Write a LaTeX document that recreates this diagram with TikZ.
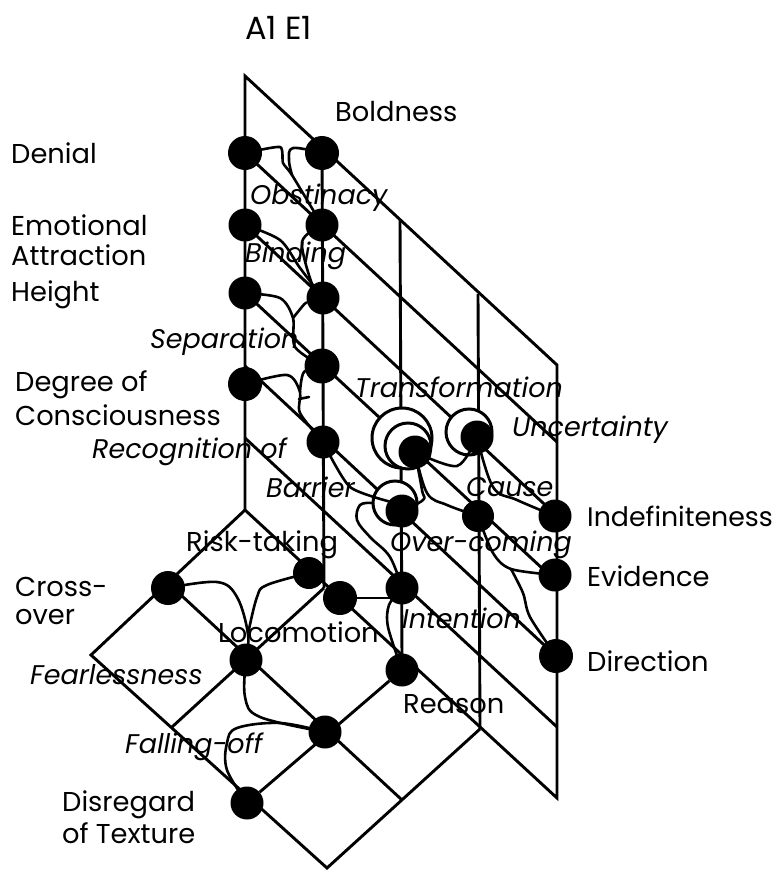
\documentclass[tikz,border=0pt]{standalone}
\usepackage{fontspec}
\setmainfont{Poppins}
\pgfdeclarelayer{bg}
\pgfsetlayers{bg,main}
\tikzset{
  grid line/.style={line width=2.9pt,line join=miter},
  conn/.style={line width=2.6pt,line cap=round,line join=round},
  dot/.style={circle,fill=black,draw=none,minimum size=#1,inner sep=0pt},
  dot/.default=33pt,
  ring/.style={circle,draw=black,fill=white,line width=3pt,minimum size=#1,inner sep=0pt},
  lab/.style={anchor=west,inner sep=0pt,font=\fontsize{27.3}{27.3}\selectfont,text=black,align=left},
  ilab/.style={lab,font=\fontsize{27}{27}\selectfont\itshape},
}
\begin{document}
\begin{tikzpicture}[x=1pt,y=-1pt]
\useasboundingbox (0,0) rectangle (776,870);
% grid corner points
\coordinate (T) at (245,76);
\coordinate (TR) at (557,365);
\coordinate (A) at (245,510);
\coordinate (BRR) at (557,798);
\coordinate (LC) at (91,655);
\coordinate (BOT) at (327,868);
\coordinate (RC) at (480,729);
\coordinate (v2t) at (322,147);
\coordinate (v2b) at (324,588);
\coordinate (v3t) at (400,220);
\coordinate (v3b) at (402,660);
\coordinate (v4t) at (478,294);
\coordinate (d2a) at (245,153);
\coordinate (d2b) at (557,442);
\coordinate (d3a) at (245,225);
\coordinate (d3b) at (557,516);
\coordinate (d4a) at (245,293);
\coordinate (d4b) at (557,582);
\coordinate (d5a) at (245,366);
\coordinate (d5b) at (557,657);
\coordinate (d6a) at (245,438);
\coordinate (d6b) at (557,727);
\coordinate (r1a) at (168,583);
\coordinate (r1b) at (402,800);
\coordinate (l2b) at (172,727);
% nodes
\node[dot=34pt] (denial) at (245,153) {};
\node[dot=34pt] (bold) at (322,153) {};
\node[dot=33pt] (emo) at (245,225) {};
\node[dot=33pt] (obst) at (322,225) {};
\node[dot=33pt] (height) at (245,293) {};
\node[dot=33pt] (bind) at (323,298) {};
\node[dot=35pt] (sep) at (322,366) {};
\node[dot=34pt] (deg) at (245,384) {};
\node[dot=33pt] (recog) at (323,442) {};
\node[dot=33pt] (trans) at (415,452) {};
\node[dot=33pt] (unc) at (477,437) {};
\node[dot=33pt] (barr) at (402,511) {};
\node[dot=32pt] (cause) at (478,516) {};
\node[dot=33pt] (indef) at (555,516) {};
\node[dot=33pt] (evid) at (555,575) {};
\node[dot=34pt] (dir) at (556,656) {};
\node[dot=33pt] (over) at (402,588) {};
\node[dot=33pt] (reason) at (402,670) {};
\node[dot=34pt] (inten) at (340,598) {};
\node[dot=32pt] (risk) at (309,573) {};
\node[dot=34pt] (cross) at (168,588) {};
\node[dot=33pt] (loco) at (246,660) {};
\node[dot=33pt] (fall) at (325,732) {};
\node[dot=33pt] (disr) at (247,803) {};
\begin{pgfonlayer}{bg}
% plane
\draw[grid line] (A) -- (T) -- (TR) -- (BRR) -- (A);
\draw[grid line] (v2t) -- (v2b);
\draw[grid line] (v3t) -- (v3b);
\draw[grid line] (v4t) -- (RC);
\draw[grid line] (d2a) -- (d2b);
\draw[grid line] (d3a) -- (d3b);
\draw[grid line] (d4a) -- (d4b);
\draw[grid line] (d5a) -- (d5b);
\draw[grid line] (d6a) -- (d6b);
% floor
\draw[grid line] (A) -- (LC) -- (BOT) -- (RC);
\draw[grid line] (r1a) -- (r1b);
\draw[grid line] (v2b) -- (l2b);
\draw[grid line] (reason) -- (disr);
% rings
\node[ring=60pt] (ringA) at (402,438) {};
\node[ring=46pt] (ringB) at (408,446) {};
\node[ring=46pt] (ringC) at (469,432) {};
\node[ring=44pt] (ringD) at (395,503) {};
% connectors
\coordinate (m1) at (292,175);
\draw[conn] plot[smooth,tension=.35] coordinates {(denial) (280,147) (283,163) (m1) (obst)};
\draw[conn] plot[smooth,tension=.6] coordinates {(bold) (293,148) (289,160) (m1)};
\draw[conn] plot[smooth,tension=.5] coordinates {(emo) (280,240) (300,268) (bind)};
\draw[conn] plot[smooth,tension=.5] coordinates {(obst) (302,242) (313,287) (bind)};
\coordinate (m2) at (293,318);
\draw[conn] plot[smooth,tension=.5] coordinates {(height) (280,298) (m2) (295,347) (sep)};
\draw[conn] (bind) .. controls (305,303) .. (m2);
\coordinate (m3) at (300,392);
\draw[conn] plot[smooth,tension=.5] coordinates {(deg) (287,375) (m3) (300,413) (recog)};
\draw[conn] plot[smooth,tension=.5] coordinates {(sep) (304,372) (m3)};
\draw[conn] (m3) ++(-1,7) -- ++(10,-2);
\draw[conn] plot[smooth,tension=.4] coordinates {(recog) (350,487) (ringD)};
\draw[conn] plot[smooth,tension=.6] coordinates {(ringD.west) (360,505) (357,520) (370,537) (390,557) (over)};
\draw[conn] plot[smooth,tension=.6] coordinates {(trans) (422,490) (423,500) (barr)};
\draw[conn] plot[smooth,tension=.6] coordinates {(trans) (427,493) (447,505) (cause)};
\draw[conn] plot[smooth,tension=.5] coordinates {(trans) (457,466) (unc)};
\draw[conn] plot[smooth,tension=.6] coordinates {(unc) (493,487) (517,500) (indef)};
\coordinate (m4) at (511,569);
\draw[conn] plot[smooth,tension=.5] coordinates {(evid) (m4) (493,553) (cause)};
\draw[conn] plot[smooth,tension=.5] coordinates {(m4) (523,593) (530,617) (dir)};
\draw[conn] (inten) -- (inten -| over);
\draw[conn] plot[smooth,tension=.5] coordinates {(over) (389,605) (388,627) (reason)};
\coordinate (m5) at (248,634);
\draw[conn] plot[smooth,tension=.6] coordinates {(cross) (217,582) (237,597) (m5) (loco)};
\draw[conn] plot[smooth,tension=.6] coordinates {(risk) (267,585) (257,597) (m5)};
\draw[conn] plot[smooth,tension=.6] coordinates {(loco) (245,697) (260,717) (fall)};
\draw[conn] plot[smooth,tension=.6] coordinates {(fall) (280,723) (237,728) (227,743) (227,770) (disr)};
\end{pgfonlayer}
% labels
\node[lab,font=\fontsize{32}{32}\selectfont] (tA) at (245,28) {A1 E1};
\node[lab] (t1) at (335,112) {Boldness};
\node[lab] (t2) at (11,153) {Denial};
\node[lab] (t3) at (11,225) {Emotional};
\node[lab] (t3b) at (11,255) {Attraction};
\node[lab] (t4) at (11,295) {Height};
\node[lab] (t5) at (15,385) {Degree of};
\node[lab] (t5b) at (15,415) {Consciousness};
\node[lab] (t6) at (15,587) {Cross-};
\node[lab] (t6b) at (15,617) {over};
\node[ilab] (t7) at (30,675) {Fearlessness};
\node[ilab] (t8) at (125,747) {Falling-off};
\node[lab] (t9) at (62,805) {Disregard};
\node[lab] (t9b) at (62,833) {of Texture};
\node[ilab] (t10) at (250,198) {Obstinacy};
\node[ilab] (t11) at (245,256) {Binding};
\node[ilab] (t12) at (150,342) {Separation};
\node[ilab] (t13) at (355,387) {Transformation};
\node[ilab] (t14) at (512,430) {Uncertainty};
\node[ilab] (t15) at (92,452) {Recognition of};
\node[ilab] (t16) at (266,487) {Barrier};
\node[ilab] (t17) at (466,487) {Cause};
\node[lab,font=\fontsize{26.8}{26.8}\selectfont] (t18) at (587,516) {Indefiniteness};
\node[ilab] (t19) at (390,545) {Over-coming};
\node[lab] (t20) at (186,545) {Risk-taking};
\node[lab] (t21) at (587,576) {Evidence};
\node[ilab] (t22) at (402,618) {Intention};
\node[lab] (t23) at (218,632) {Locomotion};
\node[lab] (t24) at (587,661) {Direction};
\node[lab] (t25) at (403,704) {Reason};
\end{tikzpicture}
\end{document}
